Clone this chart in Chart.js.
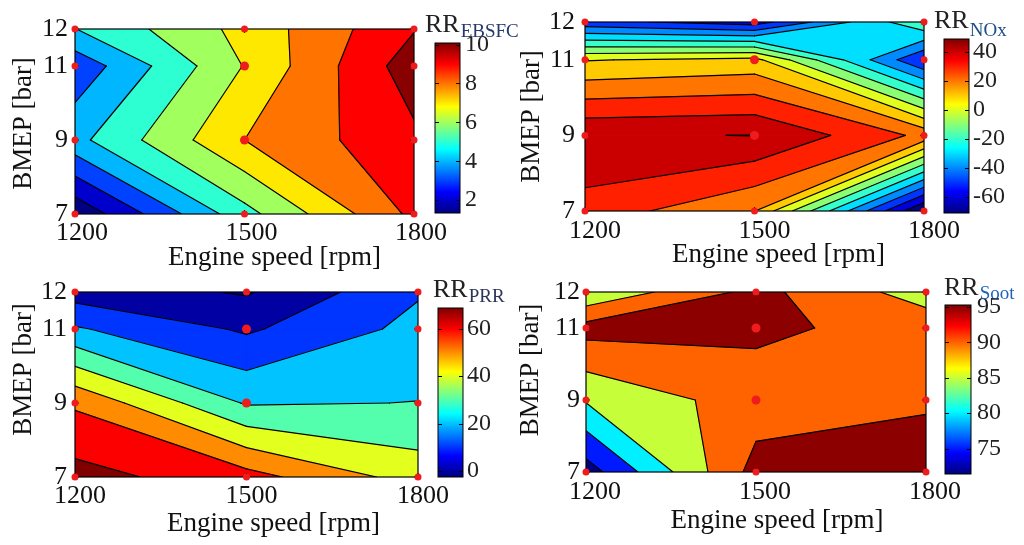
<!DOCTYPE html>
<html>
<head>
<meta charset="utf-8">
<script src="https://cdn.jsdelivr.net/npm/chart.js@4.4.1/dist/chart.umd.min.js"></script>
<style>
html,body{margin:0;padding:0;background:#fff;width:1024px;height:545px;overflow:hidden;}
.layer{position:absolute;left:0;top:0;width:1024px;height:545px;}
</style>
</head>
<body>
<div class="layer"><canvas id="p1" width="1024" height="545"></canvas></div>
<div class="layer"><canvas id="p2" width="1024" height="545"></canvas></div>
<div class="layer"><canvas id="p3" width="1024" height="545"></canvas></div>
<div class="layer"><canvas id="p4" width="1024" height="545"></canvas></div>
<div class="layer"><canvas id="c1" width="1024" height="545"></canvas></div>
<div class="layer"><canvas id="c2" width="1024" height="545"></canvas></div>
<div class="layer"><canvas id="c3" width="1024" height="545"></canvas></div>
<div class="layer"><canvas id="c4" width="1024" height="545"></canvas></div>
<script>
// ---------------- data ----------------
const engineSpeed = [1200, 1500, 1800];          // x categories (rpm)
const bmep = [7, 9, 11, 12];                      // y categories (bar)
const xTickLabels = ['1200', '1500', '1800'];
const yTickLabels = ['7', '9', '11', '12'];
const xTitle = 'Engine speed [rpm]';
const yTitle = 'BMEP [bar]';

// rows follow bmep (7, 9, 11, 12); columns follow engineSpeed (1200, 1500, 1800)
const rrEBSFC = [
  [1.2, 5.65, 9.25],
  [4.7, 8.0, 9.78],
  [3.31, 7.05, 10.57],
  [4.98, 7.32, 9.94]
];
const rrNOx = [
  [36, 20.3, -71],
  [49, 50.2, 27.5],
  [9.4, 13, -50],
  [-47, -55, -11]
];
const rrPRR = [
  [73.8, 63.8, 45.6],
  [58.5, 29, 30.2],
  [21.1, 8.5, 23],
  [5.4, -1, 19]
];
const rrSoot = [
  [72.6, 96.85, 97],
  [85.5, 92.5, 94.5],
  [96.9, 96, 93.1],
  [85.6, 96.5, 87.6]
];

// contour levels
const levelsEBSFC = [2, 3, 4, 5, 6, 7, 8, 9, 10];
const levelsNOx = [-60, -50, -40, -30, -20, -10, 0, 10, 20, 30, 40, 50];
const levelsPRR = [0, 10, 20, 30, 40, 50, 60, 70];
const levelsSoot = [75, 80, 85, 90, 95];

// colour bar limits and ticks
const climEBSFC = [1.34, 10.08];
const climNOx = [-71.2, 48.8];
const climPRR = [-2.5, 68.7];
const climSoot = [71.4, 95.3];
const cbTicksEBSFC = [2, 4, 6, 8, 10];
const cbTicksNOx = [-60, -40, -20, 0, 20, 40];
const cbTicksPRR = [0, 20, 40, 60];
const cbTicksSoot = [75, 80, 85, 90, 95];
const subEBSFC = 'EBSFC', subNOx = 'NOx', subPRR = 'PRR', subSoot = 'Soot';

// ---------------- helpers ----------------
const SERIF = "'Liberation Serif', 'Times New Roman', serif";
function jet(t) {
  t = Math.max(0, Math.min(1, t));
  const c = v => Math.round(255 * Math.max(0, Math.min(1, v)));
  return 'rgb(' + c(1.5 - Math.abs(4 * t - 3)) + ',' + c(1.5 - Math.abs(4 * t - 2)) + ',' + c(1.5 - Math.abs(4 * t - 1)) + ')';
}
function cross(p, q, L) {
  if ((p.v >= L) !== (q.v >= L)) {
    const t = (L - p.v) / (q.v - p.v);
    return [p.X + t * (q.X - p.X), p.Y + t * (q.Y - p.Y)];
  }
  return null;
}

const contourPlugin = {
  id: 'contourFill',
  beforeDatasetsDraw(chart, args, o) {
    if (!o || !o.grid) return;
    const ctx = chart.ctx, a = chart.chartArea, xs = chart.scales.x, ys = chart.scales.y;
    const z = o.grid, lv = o.levels, cl = o.clim;
    const px = p => [xs.getPixelForValue(p[0]), ys.getPixelForValue(p[1])];
    const colOf = v => jet((v - cl[0]) / (cl[1] - cl[0]));
    ctx.save();
    ctx.beginPath();
    ctx.rect(a.left, a.top, a.right - a.left, a.bottom - a.top);
    ctx.clip();
    ctx.fillStyle = jet(0);
    ctx.fillRect(a.left, a.top, a.right - a.left, a.bottom - a.top);
    const cells = [];
    for (let j = 0; j < bmep.length - 1; j++) {
      for (let i = 0; i < engineSpeed.length - 1; i++) {
        cells.push([[i, j], [i + 1, j], [i + 1, j + 1], [i, j + 1]].map(([ii, jj]) => ({X: engineSpeed[ii], Y: bmep[jj], v: z[jj][ii]})));
      }
    }
    const poly = pts => {
      if (pts.length < 3) return;
      ctx.beginPath();
      pts.forEach((p, k) => { const q = px(p); k ? ctx.lineTo(q[0], q[1]) : ctx.moveTo(q[0], q[1]); });
      ctx.closePath();
      ctx.fill();
      ctx.stroke();
    };
    // filled bands: region >= level painted with colour of that level
    lv.forEach(L => {
      const col = colOf(L);
      ctx.fillStyle = col; ctx.strokeStyle = col; ctx.lineWidth = 0.7;
      cells.forEach(c => {
        const cr = [0, 1, 2, 3].map(k => cross(c[k], c[(k + 1) % 4], L));
        const n = cr.filter(Boolean).length;
        const center = (c[0].v + c[1].v + c[2].v + c[3].v) / 4;
        if (n === 4 && center < L) {
          for (let k = 0; k < 4; k++) if (c[k].v >= L) poly([cr[(k + 3) % 4], [c[k].X, c[k].Y], cr[k]]);
          return;
        }
        const pts = [];
        for (let k = 0; k < 4; k++) {
          if (c[k].v >= L) pts.push([c[k].X, c[k].Y]);
          if (cr[k]) pts.push(cr[k]);
        }
        poly(pts);
      });
    });
    // contour lines
    ctx.strokeStyle = '#000'; ctx.lineWidth = 1.2; ctx.lineJoin = 'round'; ctx.lineCap = 'round';
    const seg = (p, q) => { const a1 = px(p), b1 = px(q); ctx.beginPath(); ctx.moveTo(a1[0], a1[1]); ctx.lineTo(b1[0], b1[1]); ctx.stroke(); };
    lv.forEach(L => {
      cells.forEach(c => {
        const cr = [0, 1, 2, 3].map(k => cross(c[k], c[(k + 1) % 4], L));
        const idx = [0, 1, 2, 3].filter(k => cr[k]);
        if (idx.length === 2) seg(cr[idx[0]], cr[idx[1]]);
        else if (idx.length === 4) {
          const center = (c[0].v + c[1].v + c[2].v + c[3].v) / 4;
          const cutHigh = center < L;
          for (let k = 0; k < 4; k++) if ((c[k].v >= L) === cutHigh) seg(cr[(k + 3) % 4], cr[k]);
        }
      });
    });
    ctx.restore();
    // frame and inner tick marks
    ctx.save();
    ctx.strokeStyle = '#000'; ctx.lineWidth = 1.2;
    ctx.strokeRect(a.left, a.top, a.right - a.left, a.bottom - a.top);
    ctx.lineWidth = 1;
    const tl = 4;
    engineSpeed.forEach(v => {
      const xx = xs.getPixelForValue(v);
      ctx.beginPath(); ctx.moveTo(xx, a.bottom); ctx.lineTo(xx, a.bottom - tl); ctx.moveTo(xx, a.top); ctx.lineTo(xx, a.top + tl); ctx.stroke();
    });
    bmep.forEach(v => {
      const yy = ys.getPixelForValue(v);
      ctx.beginPath(); ctx.moveTo(a.left, yy); ctx.lineTo(a.left + tl, yy); ctx.moveTo(a.right, yy); ctx.lineTo(a.right - tl, yy); ctx.stroke();
    });
    ctx.restore();
  },
  afterDraw(chart, args, o) {
    if (!o || !o.titles) return;
    const ctx = chart.ctx, a = chart.chartArea, t = o.titles;
    ctx.save();
    ctx.fillStyle = '#111';
    ctx.font = '27px ' + SERIF;
    ctx.textAlign = 'center';
    ctx.textBaseline = 'alphabetic';
    ctx.fillText(xTitle, (a.left + a.right) / 2 + t.dx, a.bottom + t.dy);
    ctx.translate(a.left - t.yl, (a.top + a.bottom) / 2 + t.yc);
    ctx.rotate(-Math.PI / 2);
    ctx.textBaseline = 'middle';
    ctx.fillText(yTitle, 0, 0);
    ctx.restore();
  }
};

const colorbarPlugin = {
  id: 'cbarDecor',
  afterDatasetsDraw(chart, args, o) {
    if (!o || !o.ticks) return;
    const ctx = chart.ctx, a = chart.chartArea, ys = chart.scales.y;
    ctx.save();
    ctx.strokeStyle = '#000'; ctx.lineWidth = 1;
    ctx.strokeRect(a.left, a.top, a.right - a.left, a.bottom - a.top);
    o.ticks.forEach(v => {
      const yy = Math.round(ys.getPixelForValue(v)) + 0.5;
      ctx.beginPath(); ctx.moveTo(a.left, yy); ctx.lineTo(a.left + 4, yy); ctx.moveTo(a.right, yy); ctx.lineTo(a.right - 4, yy); ctx.stroke();
    });
    ctx.fillStyle = '#222';
    ctx.font = '26px ' + SERIF;
    ctx.textAlign = 'left'; ctx.textBaseline = 'alphabetic';
    const x0 = a.left + o.tx;
    ctx.fillText('RR', x0, a.top + o.ty);
    const w = ctx.measureText('RR').width;
    ctx.font = '19px ' + SERIF;
    ctx.fillStyle = o.subColor;
    ctx.fillText(o.sub, x0 + w + 1, a.top + o.sy);
    ctx.restore();
  }
};
Chart.register(contourPlugin, colorbarPlugin);

function panel(id, grid, levels, clim, area, cfg) {
  const yW = 70, xH = 50;
  const pts = [];
  bmep.forEach((b, j) => engineSpeed.forEach((s, i) => pts.push({x: s, y: b})));
  const edge = p => p.x === engineSpeed[0] || p.x === engineSpeed[engineSpeed.length - 1] || p.y === bmep[0] || p.y === bmep[bmep.length - 1];
  return new Chart(document.getElementById(id), {
    type: 'scatter',
    data: {datasets: [{
      data: pts,
      pointRadius: c => edge(c.raw) ? 3.5 : 4.5,
      pointBackgroundColor: 'rgb(238,28,28)',
      pointBorderWidth: 0,
      pointHoverRadius: 4,
      clip: false
    }]},
    options: {
      responsive: false, animation: false, devicePixelRatio: 1,
      events: [],
      layout: {padding: {left: area.l - yW, right: 1024 - area.r, top: area.t, bottom: 545 - area.b - xH}},
      plugins: {
        legend: {display: false}, tooltip: {enabled: false},
        contourFill: {grid: grid, levels: levels, clim: clim, titles: cfg.titles},
        cbarDecor: false
      },
      scales: {
        x: {
          type: 'linear', position: 'bottom', min: engineSpeed[0], max: engineSpeed[engineSpeed.length - 1],
          grid: {display: false, drawTicks: false}, border: {display: false},
          ticks: {font: {family: SERIF, size: 26}, color: '#111', padding: cfg.xPad, labelOffset: cfg.lo, maxRotation: 0, autoSkip: false,
            callback: (v, i) => xTickLabels[i]},
          afterBuildTicks: s => { s.ticks = engineSpeed.map(v => ({value: v})); },
          afterFit: s => { s.height = xH; s.paddingLeft = 0; s.paddingRight = 0; }
        },
        y: {
          type: 'linear', position: 'left', min: bmep[0], max: bmep[bmep.length - 1],
          grid: {display: false, drawTicks: false}, border: {display: false},
          ticks: {font: {family: SERIF, size: 26}, color: '#111', padding: cfg.yPad, autoSkip: false,
            callback: (v, i) => yTickLabels[i]},
          afterBuildTicks: s => { s.ticks = bmep.map(v => ({value: v})); },
          afterFit: s => { s.width = yW; s.paddingTop = 0; s.paddingBottom = 0; }
        }
      }
    }
  });
}

function colorbar(id, clim, ticks, area, cfg) {
  const yW = 50;
  return new Chart(document.getElementById(id), {
    type: 'bar',
    data: {labels: [''], datasets: [{
      data: [[clim[0], clim[1]]],
      backgroundColor: c => {
        const a = c.chart.chartArea;
        if (!a) return 'transparent';
        const g = c.chart.ctx.createLinearGradient(0, a.bottom, 0, a.top);
        for (let k = 0; k <= 32; k++) g.addColorStop(k / 32, jet(k / 32));
        return g;
      },
      borderWidth: 0, borderSkipped: false, barPercentage: 1, categoryPercentage: 1
    }]},
    options: {
      responsive: false, animation: false, devicePixelRatio: 1,
      events: [],
      layout: {padding: {left: area.l, right: 1024 - area.r - yW, top: area.t, bottom: 545 - area.b}},
      plugins: {
        legend: {display: false}, tooltip: {enabled: false},
        contourFill: false,
        cbarDecor: {ticks: ticks, sub: cfg.sub, subColor: cfg.subColor, tx: cfg.tx, ty: cfg.ty, sy: cfg.sy}
      },
      scales: {
        x: {display: false},
        y: {
          position: 'right', min: clim[0], max: clim[1],
          grid: {display: false, drawTicks: false}, border: {display: false},
          ticks: {font: {family: SERIF, size: 24}, color: '#222', padding: cfg.pad, autoSkip: false},
          afterBuildTicks: s => { s.ticks = ticks.map(v => ({value: v})); },
          afterFit: s => { s.width = yW; s.paddingTop = 0; s.paddingBottom = 0; }
        }
      }
    }
  });
}

panel('p1', rrEBSFC, levelsEBSFC, climEBSFC, {l: 75, r: 414, t: 29, b: 214},
  {xPad: 4, yPad: 7, lo: 7, titles: {dx: 30, dy: 51, yl: 51, yc: 2}});
panel('p2', rrNOx, levelsNOx, climNOx, {l: 585, r: 924, t: 22, b: 211},
  {xPad: 5, yPad: 10, lo: 10, titles: {dx: 24, dy: 51, yl: 53, yc: 0}});
panel('p3', rrPRR, levelsPRR, climPRR, {l: 75, r: 418, t: 292, b: 477},
  {xPad: 4, yPad: 8, lo: 5, titles: {dx: 27, dy: 54, yl: 51, yc: -15}});
panel('p4', rrSoot, levelsSoot, climSoot, {l: 586, r: 926, t: 292, b: 472},
  {xPad: 5, yPad: 6, lo: 9, titles: {dx: 21, dy: 56, yl: 55, yc: -12}});

colorbar('c1', climEBSFC, cbTicksEBSFC, {l: 435, r: 460, t: 43, b: 213},
  {pad: 5, sub: subEBSFC, subColor: '#26386e', tx: -10, ty: -11, sy: -6});
colorbar('c2', climNOx, cbTicksNOx, {l: 944, r: 969, t: 39, b: 213},
  {pad: 4, sub: subNOx, subColor: '#1d4e86', tx: -10, ty: -11, sy: -3});
colorbar('c3', climPRR, cbTicksPRR, {l: 438, r: 463, t: 308, b: 477},
  {pad: 4, sub: subPRR, subColor: '#2b3556', tx: -5, ty: -11, sy: -6});
colorbar('c4', climSoot, cbTicksSoot, {l: 945, r: 971, t: 305, b: 474},
  {pad: 6, sub: subSoot, subColor: '#1f62b8', tx: -1, ty: -10, sy: -6});
</script>
</body>
</html>
